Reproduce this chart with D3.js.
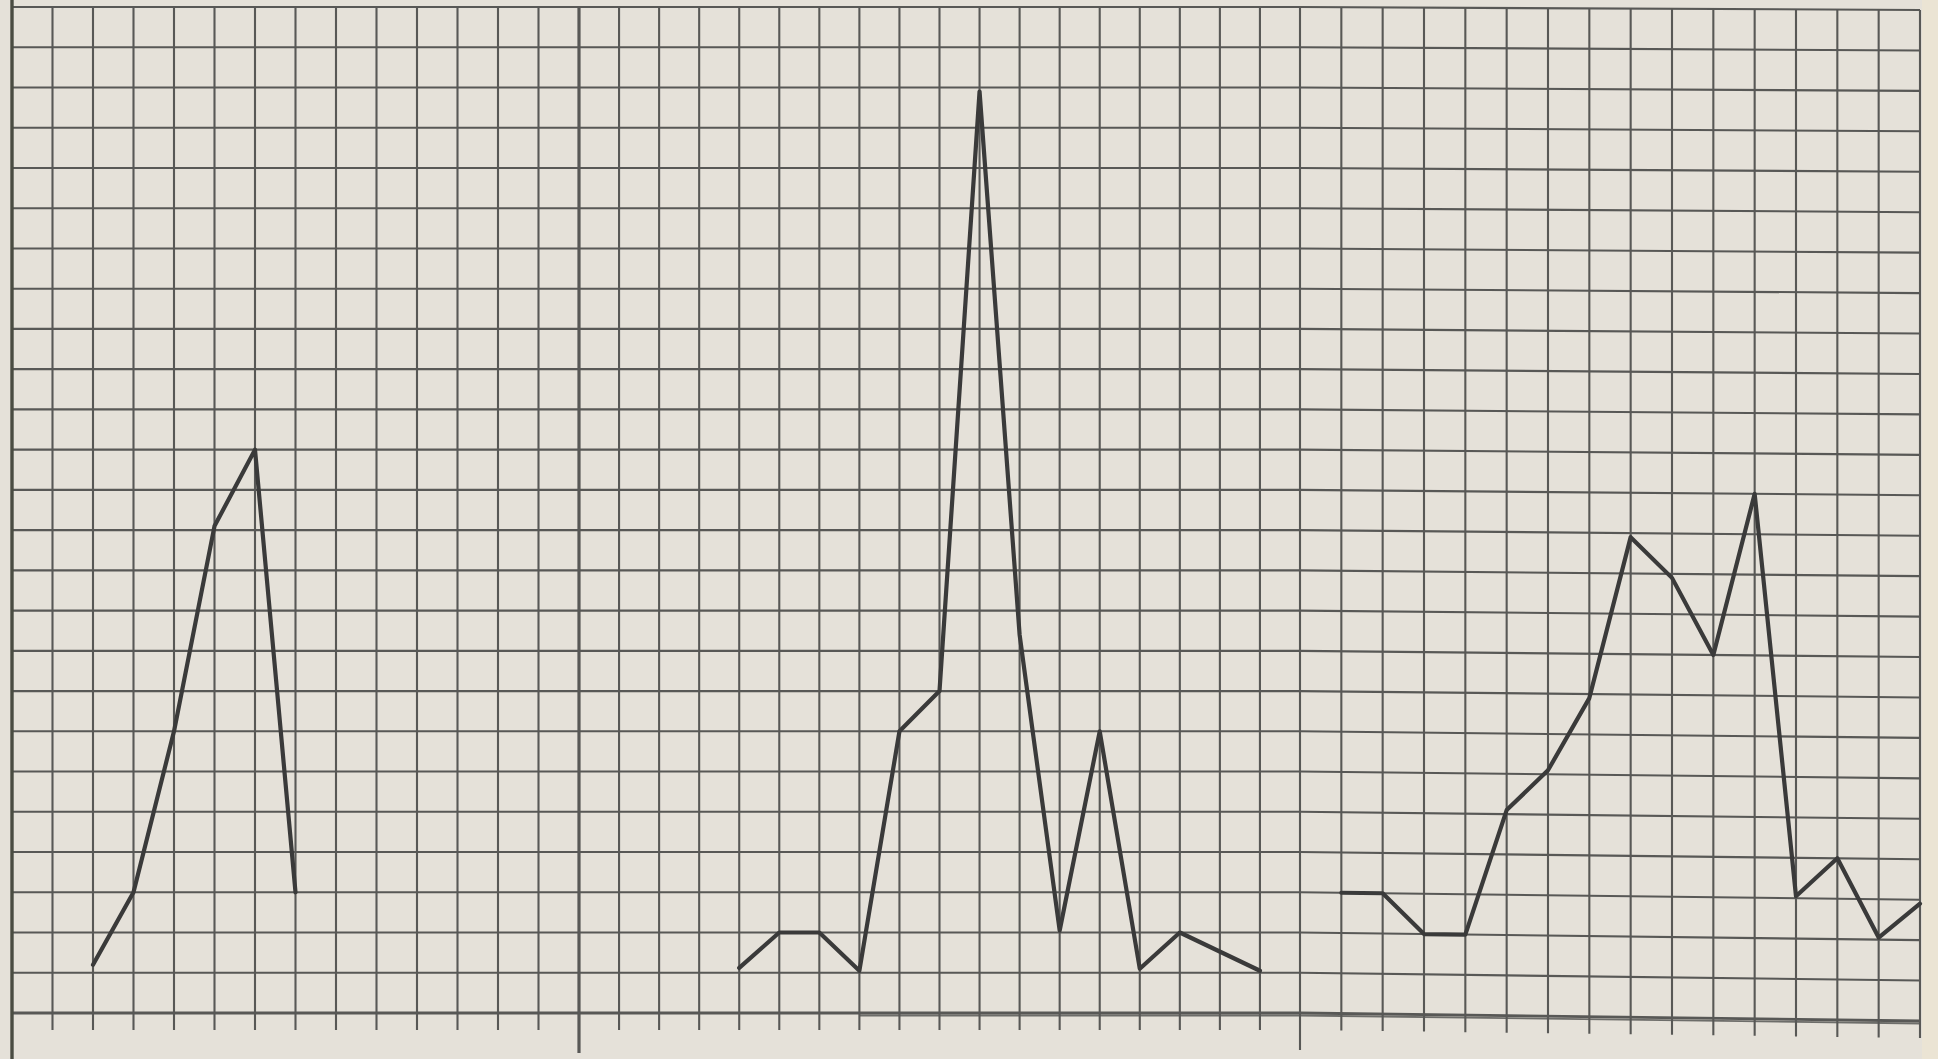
<!DOCTYPE html>
<html><head><meta charset="utf-8">
<script src="https://cdn.jsdelivr.net/npm/d3@7"></script>
<style>html,body{margin:0;padding:0;background:#e6e1d8;overflow:hidden}</style>
</head><body><svg id="c" width="1938" height="1059"></svg>
<script>
// ---- data (grid units: column index, value in squares) ----
const columns = d3.range(0, 48);          // 47 squares across
const rows = d3.range(0, 26);             // 25 squares high
const panelEdges = [0, 14, 32];           // heavier/longer dividing lines
const s1Cols = [2, 3, 4, 5, 6, 7];
const s1Vals = [1.2, 3, 7, 12.1, 14, 3];
const s2Cols = [18, 19, 20, 21, 22, 23, 24, 25, 26, 27, 28, 29, 31];
const s2Vals = [1.12, 2, 2, 1.05, 7, 8, 22.9, 9.4, 2.05, 7, 1.1, 2, 1.05];
const s3Cols = [33, 34, 35, 36, 37, 38, 39, 40, 41, 42, 43, 44, 45, 46, 47];
const s3Vals = [3, 3, 2, 2, 5.1, 6.1, 7.9, 11.9, 10.9, 9, 13, 3.05, 4, 2.05, 2.9];

const svg = d3.select('#c');
const W = 1938, H = 1059;

svg.append('rect').attr('width', W).attr('height', H).attr('fill', '#e5e1d9');
svg.append('rect').attr('x', 1922).attr('width', W - 1922).attr('height', H).attr('fill', '#ebe4d4');

const x = d3.scaleLinear().domain([0, 14, 32, 47]).range([12, 579, 1300, 1920]);
const yLeft = d3.scaleLinear().domain([0, 25]).range([1013, 7]);
const yRight = d3.scaleLinear().domain([0, 25]).range([1021, 10]);
function Y(v, c) {
  if (c <= 32) return yLeft(v);
  const t = (c - 32) / 15;
  return yLeft(v) * (1 - t) + yRight(v) * t;
}

const gridColor = '#585856';
const g = svg.append('g');

// horizontal grid lines
const hLine = d3.line().x(d => x(d.c)).y(d => Y(d.v, d.c));
rows.forEach(r => {
  g.append('path')
    .attr('d', hLine([{c: 0, v: r}, {c: 32, v: r}, {c: 47, v: r}]))
    .attr('fill', 'none')
    .attr('stroke', gridColor)
    .attr('stroke-width', r === 0 ? 2.8 : 2.1);
});
// slightly doubled baseline on the right-hand sheet
g.append('path')
  .attr('d', d3.line().x(d => x(d.c)).y(d => Y(0, d.c) + 2.5)([{c: 21, v: 0}, {c: 32, v: 0}, {c: 47, v: 0}]))
  .attr('fill', 'none').attr('stroke', gridColor).attr('stroke-width', 1.8).attr('opacity', 0.85);

// vertical grid lines + ticks below the baseline
columns.forEach(c => {
  const bottom = c === 0 ? H : (c === 14 ? 1053 : (c === 32 ? 1050 : Y(0, c) + 17));
  g.append('line')
    .attr('x1', x(c)).attr('x2', x(c))
    .attr('y1', c === 0 ? 0 : Y(25, c)).attr('y2', bottom)
    .attr('stroke', c === 0 ? '#4a4c42' : gridColor)
    .attr('stroke-width', c === 0 ? 3.4 : (c === 14 ? 3.2 : 2.1));
});

// data lines
const dataLine = d3.line().x(d => x(d.c)).y(d => Y(d.v, d.c));
const series = [
  s1Cols.map((c, i) => ({c, v: s1Vals[i]})),
  s2Cols.map((c, i) => ({c, v: s2Vals[i]})),
  s3Cols.map((c, i) => ({c, v: s3Vals[i]}))
];
svg.append('g').selectAll('path').data(series).join('path')
  .attr('d', dataLine)
  .attr('fill', 'none')
  .attr('stroke', '#3a3a3a')
  .attr('stroke-width', 4.2)
  .attr('stroke-linejoin', 'round')
  .attr('stroke-linecap', 'round');
</script>
</body></html>
